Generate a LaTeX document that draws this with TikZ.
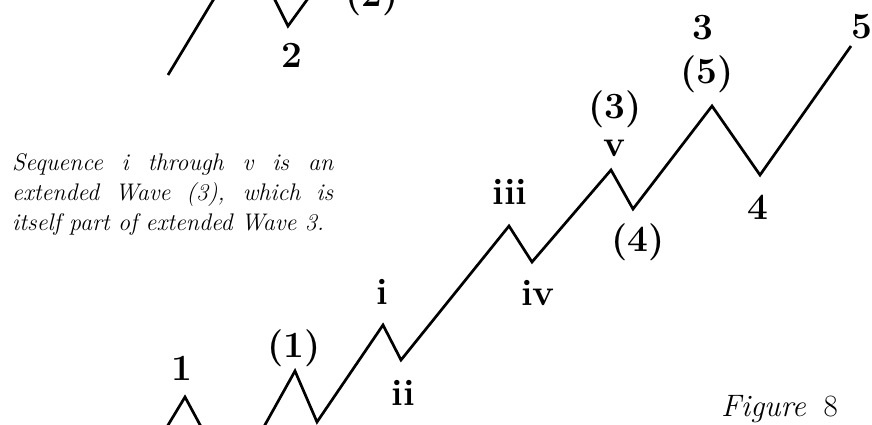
\documentclass[tikz,border=0pt]{standalone}
\usepackage{fontspec}
\usepackage{tikz}

\begin{document}
\begin{tikzpicture}[
        x=1pt, y=-1pt,
        wave/.style={line width=2.7pt, black},
        lbl/.style={font=\fontsize{37}{40}\selectfont\bfseries, inner sep=0pt, anchor=base},
        note/.style={font=\fontsize{24}{30}\selectfont\itshape, text width=321pt,
                     align=justify, inner sep=0pt, anchor=base west},
        figlbl/.style={font=\fontsize{31}{33}\selectfont, inner sep=0pt, anchor=base west}
    ]
    \useasboundingbox (0,0) rectangle (872,425);
    \begin{scope}
        \clip (0,0) rectangle (872,425);
        % upper strip
        \coordinate (u0) at (168,75);
        \coordinate (u1) at (247,-56);
        \coordinate (u2) at (288,26);
        \coordinate (u3) at (336,-40);
        \draw[wave] (u0) -- (u1) -- (u2) -- (u3);
        \node[lbl] (l2) at (292,68) {2};
        \node[lbl] (l2s) at (372,7) {(2)};
        % main wave
        \coordinate (w0) at (156,445);
        \coordinate (p1) at (185,397);
        \coordinate (t2) at (232,484);
        \coordinate (p1s) at (295,371);
        \coordinate (t2s) at (317,422);
        \coordinate (pi) at (383,325);
        \coordinate (tii) at (401,360);
        \coordinate (piii) at (509,226);
        \coordinate (tiv) at (532,262);
        \coordinate (pv) at (611,170);
        \coordinate (t4s) at (633,209);
        \coordinate (p5s) at (712,106);
        \coordinate (t4) at (760,175);
        \coordinate (p5) at (851,46);
        \draw[wave] (w0) -- (p1) -- (t2) -- (p1s) -- (t2s) -- (pi) -- (tii)
            -- (piii) -- (tiv) -- (pv) -- (t4s) -- (p5s) -- (t4) -- (p5);
    \end{scope}

    \node[lbl] (l1) at (182,380) {1};
    \node[lbl] (l1s) at (294,357) {(1)};
    \node[lbl] (li) at (382,304) {i};
    \node[lbl] (lii) at (403,405) {ii};
    \node[lbl] (liii) at (510,204) {iii};
    \node[lbl] (liv) at (538,305) {iv};
    \node[lbl] (lv) at (614,157) {v};
    \node[lbl] (l3s) at (615,119) {(3)};
    \node[lbl] (l4s) at (638,251) {(4)};
    \node[lbl] (l5s) at (707,84) {(5)};
    \node[lbl] (l3) at (703,40) {3};
    \node[lbl] (l4) at (758,219) {4};
    \node[lbl] (l5) at (862,39) {5};

    \node[note] (note) at (12,170)
        {Sequence i through v is an\linebreak extended Wave (3), which is\linebreak
         itself part of extended Wave 3.};
    \node[figlbl] (fig) at (721,416) {\itshape Figure\hspace{18pt}\upshape 8};
\end{tikzpicture}
\end{document}
